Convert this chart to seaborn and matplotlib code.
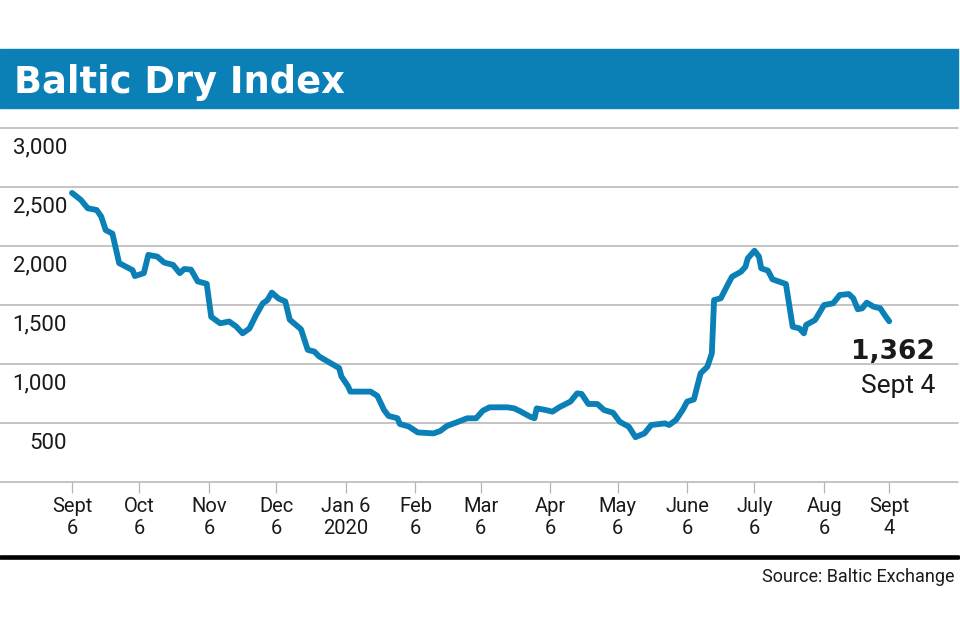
# Baltic Dry Index chart, Sept 2019 - Sept 2020
import matplotlib
matplotlib.use('Agg')
import matplotlib.pyplot as plt
import matplotlib.patches as patches
import seaborn as sns
import pandas as pd

# --------------
# Data
# --------------
dates = ['2019-09-06', '2019-09-10', '2019-09-13', '2019-09-17', '2019-09-19',
         '2019-09-21', '2019-09-24', '2019-09-27', '2019-10-03', '2019-10-04',
         '2019-10-08', '2019-10-10', '2019-10-14', '2019-10-17', '2019-10-21',
         '2019-10-24', '2019-10-26', '2019-10-29', '2019-11-01', '2019-11-05',
         '2019-11-07', '2019-11-11', '2019-11-15', '2019-11-18', '2019-11-21',
         '2019-11-24', '2019-11-27', '2019-11-30', '2019-12-02', '2019-12-04',
         '2019-12-07', '2019-12-10', '2019-12-12', '2019-12-17', '2019-12-20',
         '2019-12-23', '2019-12-25', '2020-01-03', '2020-01-04', '2020-01-07',
         '2020-01-08', '2020-01-17', '2020-01-20', '2020-01-23', '2020-01-25',
         '2020-01-29', '2020-01-30', '2020-02-03', '2020-02-07', '2020-02-14',
         '2020-02-17', '2020-02-20', '2020-02-24', '2020-02-29', '2020-03-04',
         '2020-03-07', '2020-03-10', '2020-03-18', '2020-03-21', '2020-03-24',
         '2020-03-28', '2020-03-30', '2020-03-31', '2020-04-04', '2020-04-07',
         '2020-04-10', '2020-04-15', '2020-04-18', '2020-04-20', '2020-04-23',
         '2020-04-27', '2020-04-30', '2020-05-04', '2020-05-07', '2020-05-11',
         '2020-05-14', '2020-05-18', '2020-05-21', '2020-05-27', '2020-05-29',
         '2020-06-01', '2020-06-04', '2020-06-06', '2020-06-09', '2020-06-12',
         '2020-06-15', '2020-06-17', '2020-06-18', '2020-06-21', '2020-06-24',
         '2020-06-26', '2020-06-30', '2020-07-02', '2020-07-03', '2020-07-06',
         '2020-07-08', '2020-07-09', '2020-07-12', '2020-07-14', '2020-07-17',
         '2020-07-20', '2020-07-23', '2020-07-26', '2020-07-28', '2020-07-29',
         '2020-08-02', '2020-08-06', '2020-08-10', '2020-08-13', '2020-08-17',
         '2020-08-19', '2020-08-21', '2020-08-23', '2020-08-25', '2020-08-28',
         '2020-08-31', '2020-09-02', '2020-09-04']
values = [2450, 2390, 2320, 2305, 2250,
          2135, 2105, 1855, 1795, 1745,
          1770, 1925, 1910, 1860, 1840,
          1770, 1805, 1800, 1700, 1680,
          1400, 1345, 1360, 1320, 1260,
          1300, 1415, 1515, 1540, 1605,
          1555, 1530, 1375, 1295, 1120,
          1105, 1065, 965, 895, 810,
          766, 766, 730, 610, 560,
          540, 492, 470, 420, 412,
          432, 475, 503, 540, 540,
          604, 633, 633, 624, 596,
          554, 540, 624, 610, 596,
          633, 681, 751, 746, 661,
          661, 610, 587, 510, 469,
          380, 412, 483, 497, 483,
          525, 610, 681, 700, 921,
          977, 1090, 1542, 1557, 1669,
          1740, 1782, 1825, 1895, 1960,
          1910, 1811, 1791, 1718, 1698,
          1678, 1316, 1302, 1260, 1331,
          1373, 1500, 1514, 1585, 1593,
          1557, 1464, 1472, 1520, 1486,
          1472, 1415, 1362]

tick_dates = ['2019-09-06', '2019-10-06', '2019-11-06', '2019-12-06', '2020-01-06',
              '2020-02-06', '2020-03-06', '2020-04-06', '2020-05-06', '2020-06-06',
              '2020-07-06', '2020-08-06', '2020-09-04']
tick_labels = ['Sept\n6', 'Oct\n6', 'Nov\n6', 'Dec\n6', 'Jan 6\n2020', 'Feb\n6',
               'Mar\n6', 'Apr\n6', 'May\n6', 'June\n6', 'July\n6', 'Aug\n6', 'Sept\n4']
y_ticks = [500, 1000, 1500, 2000, 2500, 3000]
y_labels = ['500', '1,000', '1,500', '2,000', '2,500', '3,000']

df = pd.DataFrame({'date': pd.to_datetime(dates), 'bdi': values})

# --------------
# Style
# --------------
sns.set_theme(style='white')
plt.rcParams['font.family'] = ['Roboto', 'DejaVu Sans']
BLUE = '#0b80b7'
GRID = '#b4b4b4'
INK = '#1a1a1a'

W, H = 960, 640
fig = plt.figure(figsize=(9.6, 6.4), dpi=100)

# plot area in pixels: x 0..958, y 128..482
ax = fig.add_axes([0, 1 - 482 / H, 958 / W, (482 - 128) / H])
sns.lineplot(data=df, x='date', y='bdi', ax=ax, color=BLUE, linewidth=4.2,
             solid_capstyle='round', solid_joinstyle='round', zorder=3)

start = pd.Timestamp('2019-09-06')
ax.set_xlim(start - pd.Timedelta(days=32.07), start + pd.Timedelta(days=394.65))
ax.set_ylim(0, 3000)

for v in y_ticks:
    ax.axhline(v, color=GRID, linewidth=1.1, clip_on=False, zorder=1)
ax.axhline(0, color=GRID, linewidth=1.1, clip_on=False, zorder=1)

for sp in ax.spines.values():
    sp.set_visible(False)

ax.set_yticks([])
ax.set_xticks(pd.to_datetime(tick_dates))
ax.set_xticklabels(tick_labels, fontsize=14.5, color=INK, linespacing=1.15)
ax.tick_params(axis='x', direction='out', length=8, width=0.9, color=GRID,
               pad=3, bottom=True)
ax.set_xlabel('')
ax.set_ylabel('')

# y labels sit just below each gridline
for v, lab in zip(y_ticks, y_labels):
    ax.text(67 / 958, v - 170, lab, transform=ax.get_yaxis_transform(),
            ha='right', va='center', fontsize=16, color=INK)

# --------------
# Title banner, annotation, source
# --------------
fig.patches.append(patches.Rectangle((0, 1 - 108 / H), 958 / W, 59 / H,
                                     transform=fig.transFigure, color=BLUE,
                                     zorder=0))
fig.text(14 / W, 1 - 93 / H, 'Baltic Dry Index', ha='left', va='baseline',
         fontsize=26.5, fontweight='bold', color='white', family=['DejaVu Sans'])

fig.text(935 / W, 1 - 352 / H, '1,362', ha='right', va='center', fontsize=19,
         fontweight='bold', color=INK, family=['DejaVu Sans'])
fig.text(935 / W, 1 - 386 / H, 'Sept 4', ha='right', va='center', fontsize=19,
         color=INK)

fig.add_artist(plt.Line2D([0, 958 / W], [1 - 557 / H, 1 - 557 / H],
                          transform=fig.transFigure, color='black', linewidth=3.3))
fig.text(954 / W, 1 - 577 / H, 'Source: Baltic Exchange', ha='right', va='center',
         fontsize=13, color=INK)

fig.savefig('out.png', dpi=100)
plt.close()
print('// complete ....... figure: out.png')
